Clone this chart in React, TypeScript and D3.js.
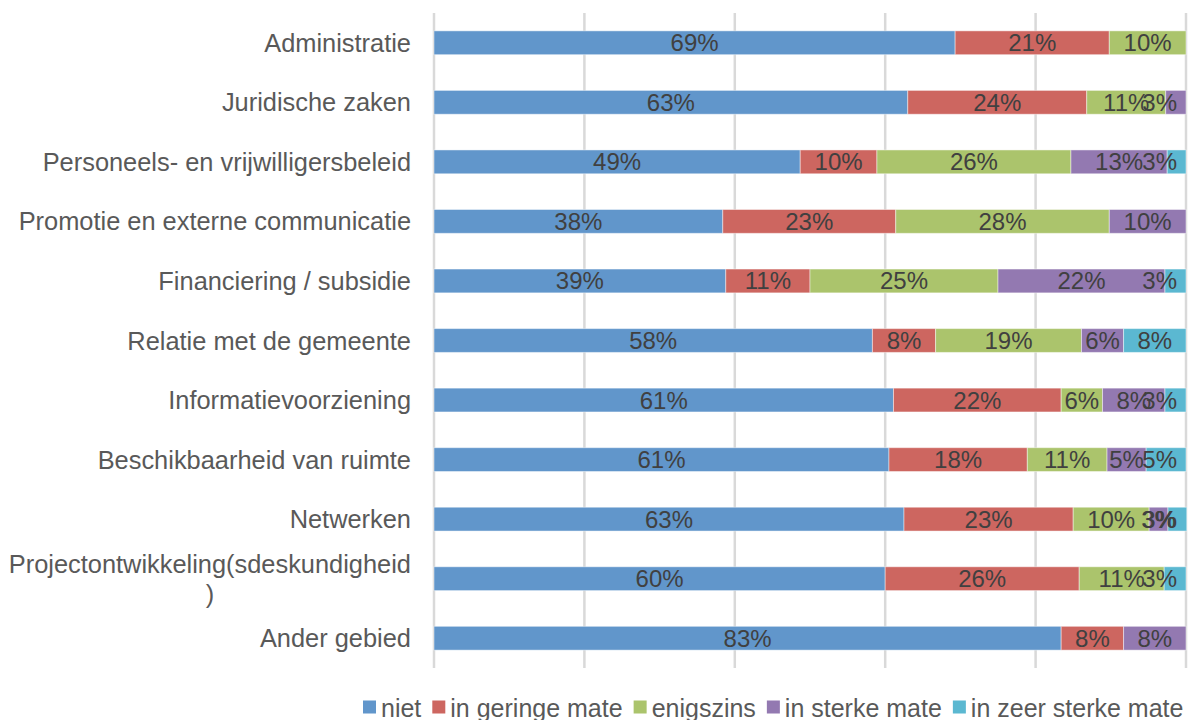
import React from "react";
import * as d3 from "d3";

const categories = [
  "Administratie",
  "Juridische zaken",
  "Personeels- en vrijwilligersbeleid",
  "Promotie en externe communicatie",
  "Financiering / subsidie",
  "Relatie met de gemeente",
  "Informatievoorziening",
  "Beschikbaarheid van ruimte",
  "Netwerken",
  "Projectontwikkeling(sdeskundigheid\n)",
  "Ander gebied",
];

const seriesNames = ["niet", "in geringe mate", "enigszins", "in sterke mate", "in zeer sterke mate"];
const seriesColors = ["#6196CB", "#CD6660", "#ABC46C", "#9379B1", "#5BB8D1"];

const niet = [69.3, 63.0, 48.7, 38.4, 38.8, 58.3, 61.1, 60.5, 62.5, 60.0, 83.4];
const geringe = [20.5, 23.8, 10.2, 23.0, 11.2, 8.4, 22.3, 18.4, 22.5, 25.8, 8.3];
const enigszins = [10.2, 10.5, 25.8, 28.4, 25.0, 19.4, 5.5, 10.6, 10.1, 11.3, 0];
const sterke = [0, 2.7, 12.8, 10.2, 22.2, 5.6, 8.3, 5.2, 2.5, 0, 8.3];
const zeerSterke = [0, 0, 2.5, 0, 2.8, 8.3, 2.8, 5.3, 2.5, 2.9, 0];

const seriesValues = [niet, geringe, enigszins, sterke, zeerSterke];
const xTicks = [0, 20, 40, 60, 80, 100];

const FONT = '"Liberation Sans", Arial, sans-serif';

function measure(text: string, size: number): number {
  const c = document.createElement("canvas");
  const ctx = c.getContext("2d");
  if (!ctx) return text.length * size * 0.55;
  ctx.font = `${size}px ${FONT}`;
  return ctx.measureText(text).width;
}

export default function App() {
  const W = 1192;
  const H = 720;
  const left = 434;
  const right = 1186;
  const top = 13;
  const bottom = 668;

  const x = d3.scaleLinear().domain([0, 100]).range([left, right]);
  const y = d3.scaleBand<string>().domain(categories).range([top, bottom]).paddingInner(0.6).paddingOuter(0.3);

  const rows = categories.map((c, i) => {
    const obj: any = { cat: c };
    seriesNames.forEach((s, j) => (obj[s] = seriesValues[j][i]));
    return obj;
  });
  const stacked = d3.stack<any>().keys(seriesNames)(rows);

  const labelSize = 24;
  const catSize = 25.4;
  const legendSize = 25;

  const sq = 13;
  let lx = 363;
  const legendItems = seriesNames.map((s, i) => {
    const item = { name: s, color: seriesColors[i], x: lx };
    lx += sq + 5 + measure(s, legendSize) + 11;
    return item;
  });
  const legendY = 707;

  const bw = y.bandwidth();

  return (
    <svg width={W} height={H} style={{ position: "absolute", left: 0, top: 0, background: "#fff" }} fontFamily={FONT}>
      {xTicks.map((t) => (
        <line key={t} x1={x(t)} x2={x(t)} y1={top} y2={bottom} stroke="#D9D9D9" strokeWidth={2.5} />
      ))}
      {stacked.map((layer, j) => (
        <g key={seriesNames[j]}>
          {layer.map((d, i) => {
            const v = d[1] - d[0];
            if (v <= 0) return null;
            const cat = categories[i];
            const yy = y(cat)!;
            return (
              <rect
                key={i}
                x={x(d[0])}
                y={yy}
                width={x(d[1]) - x(d[0])}
                height={bw}
                fill={seriesColors[j]}
                stroke="#ffffff"
                strokeOpacity={0.45}
                strokeWidth={1}
              />
            );
          })}
        </g>
      ))}
      {stacked.map((layer, j) => (
        <g key={"l" + seriesNames[j]}>
          {layer.map((d, i) => {
            const v = d[1] - d[0];
            if (v <= 0) return null;
            const txt = Math.round(v) + "%";
            const w = measure(txt, labelSize);
            let cx = (x(d[0]) + x(d[1])) / 2;
            const maxC = 1177 - w / 2;
            if (cx > maxC) cx = maxC;
            const cy = y(categories[i])! + bw / 2;
            return (
              <text
                key={i}
                x={cx}
                y={cy}
                textAnchor="middle"
                dominantBaseline="central"
                fontSize={labelSize}
                fill="#404040"
              >
                {txt}
              </text>
            );
          })}
        </g>
      ))}
      {categories.map((c) => {
        const lines = c.split("\n");
        const cy = y(c)! + bw / 2;
        if (lines.length === 1) {
          return (
            <text key={c} x={411} y={cy} textAnchor="end" dominantBaseline="central" fontSize={catSize} fill="#595959">
              {c}
            </text>
          );
        }
        const w0 = measure(lines[0], catSize);
        const mid = 411 - w0 / 2;
        return (
          <g key={c}>
            {lines.map((ln, k) => (
              <text
                key={k}
                x={mid}
                y={cy + (k - (lines.length - 1) / 2) * 30}
                textAnchor="middle"
                dominantBaseline="central"
                fontSize={catSize}
                fill="#595959"
              >
                {ln}
              </text>
            ))}
          </g>
        );
      })}
      {legendItems.map((it) => (
        <g key={it.name}>
          <rect x={it.x} y={legendY - sq / 2} width={sq} height={sq} fill={it.color} />
          <text x={it.x + sq + 5} y={legendY + 1} dominantBaseline="central" fontSize={legendSize} fill="#595959">
            {it.name}
          </text>
        </g>
      ))}
    </svg>
  );
}
